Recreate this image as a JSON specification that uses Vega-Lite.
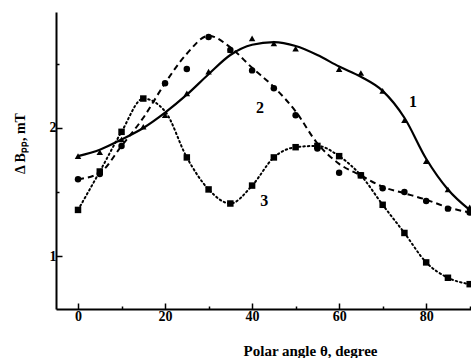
{
  "$schema": "https://vega.github.io/schema/vega-lite/v6.json",
  "width": 415,
  "height": 297,
  "autosize": "none",
  "padding": {"left": 56, "top": 12, "right": 0, "bottom": 49},
  "background": "white",
  "config": {"view": {"stroke": null}, "font": "Liberation Serif"},
  "datasets": {
    "markers": [
      {"curve": "1", "theta": 0, "v": 1.78},
      {"curve": "1", "theta": 5, "v": 1.81},
      {"curve": "1", "theta": 10, "v": 1.91},
      {"curve": "1", "theta": 15, "v": 2.01},
      {"curve": "1", "theta": 20, "v": 2.10},
      {"curve": "1", "theta": 25, "v": 2.27},
      {"curve": "1", "theta": 30, "v": 2.44},
      {"curve": "1", "theta": 35, "v": 2.61},
      {"curve": "1", "theta": 40, "v": 2.70},
      {"curve": "1", "theta": 45, "v": 2.66},
      {"curve": "1", "theta": 50, "v": 2.62},
      {"curve": "1", "theta": 60, "v": 2.46},
      {"curve": "1", "theta": 65, "v": 2.43},
      {"curve": "1", "theta": 70, "v": 2.29},
      {"curve": "1", "theta": 75, "v": 2.06},
      {"curve": "1", "theta": 80, "v": 1.74},
      {"curve": "1", "theta": 85, "v": 1.52},
      {"curve": "1", "theta": 90, "v": 1.38},
      {"curve": "2", "theta": 0, "v": 1.60},
      {"curve": "2", "theta": 5, "v": 1.64},
      {"curve": "2", "theta": 10, "v": 1.86},
      {"curve": "2", "theta": 20, "v": 2.35},
      {"curve": "2", "theta": 25, "v": 2.46},
      {"curve": "2", "theta": 30, "v": 2.71},
      {"curve": "2", "theta": 35, "v": 2.61},
      {"curve": "2", "theta": 40, "v": 2.45},
      {"curve": "2", "theta": 45, "v": 2.31},
      {"curve": "2", "theta": 50, "v": 2.10},
      {"curve": "2", "theta": 55, "v": 1.84},
      {"curve": "2", "theta": 60, "v": 1.65},
      {"curve": "2", "theta": 65, "v": 1.63},
      {"curve": "2", "theta": 70, "v": 1.53},
      {"curve": "2", "theta": 75, "v": 1.50},
      {"curve": "2", "theta": 80, "v": 1.43},
      {"curve": "2", "theta": 85, "v": 1.37},
      {"curve": "2", "theta": 90, "v": 1.34},
      {"curve": "3", "theta": 0, "v": 1.36},
      {"curve": "3", "theta": 5, "v": 1.66},
      {"curve": "3", "theta": 10, "v": 1.97},
      {"curve": "3", "theta": 15, "v": 2.23},
      {"curve": "3", "theta": 25, "v": 1.77},
      {"curve": "3", "theta": 30, "v": 1.52},
      {"curve": "3", "theta": 35, "v": 1.41},
      {"curve": "3", "theta": 40, "v": 1.55},
      {"curve": "3", "theta": 45, "v": 1.77},
      {"curve": "3", "theta": 50, "v": 1.85},
      {"curve": "3", "theta": 55, "v": 1.86},
      {"curve": "3", "theta": 60, "v": 1.78},
      {"curve": "3", "theta": 65, "v": 1.63},
      {"curve": "3", "theta": 70, "v": 1.40},
      {"curve": "3", "theta": 75, "v": 1.18},
      {"curve": "3", "theta": 80, "v": 0.95},
      {"curve": "3", "theta": 85, "v": 0.83},
      {"curve": "3", "theta": 90, "v": 0.78}
    ],
    "curves": [
      {"curve": "1", "theta": 0, "v": 1.78},
      {"curve": "1", "theta": 5, "v": 1.83},
      {"curve": "1", "theta": 10, "v": 1.91},
      {"curve": "1", "theta": 15, "v": 2.00},
      {"curve": "1", "theta": 20, "v": 2.12},
      {"curve": "1", "theta": 25, "v": 2.26},
      {"curve": "1", "theta": 30, "v": 2.42},
      {"curve": "1", "theta": 35, "v": 2.57},
      {"curve": "1", "theta": 40, "v": 2.65},
      {"curve": "1", "theta": 45, "v": 2.67},
      {"curve": "1", "theta": 50, "v": 2.64},
      {"curve": "1", "theta": 55, "v": 2.57},
      {"curve": "1", "theta": 60, "v": 2.48},
      {"curve": "1", "theta": 65, "v": 2.40},
      {"curve": "1", "theta": 70, "v": 2.29},
      {"curve": "1", "theta": 75, "v": 2.08},
      {"curve": "1", "theta": 80, "v": 1.76},
      {"curve": "1", "theta": 85, "v": 1.52},
      {"curve": "1", "theta": 90, "v": 1.36},
      {"curve": "2", "theta": 0, "v": 1.60},
      {"curve": "2", "theta": 5, "v": 1.65},
      {"curve": "2", "theta": 10, "v": 1.86},
      {"curve": "2", "theta": 15, "v": 2.08},
      {"curve": "2", "theta": 20, "v": 2.35},
      {"curve": "2", "theta": 25, "v": 2.58},
      {"curve": "2", "theta": 30, "v": 2.72},
      {"curve": "2", "theta": 35, "v": 2.63},
      {"curve": "2", "theta": 40, "v": 2.47},
      {"curve": "2", "theta": 45, "v": 2.32},
      {"curve": "2", "theta": 50, "v": 2.13},
      {"curve": "2", "theta": 55, "v": 1.88},
      {"curve": "2", "theta": 60, "v": 1.72},
      {"curve": "2", "theta": 65, "v": 1.63},
      {"curve": "2", "theta": 70, "v": 1.54},
      {"curve": "2", "theta": 75, "v": 1.49},
      {"curve": "2", "theta": 80, "v": 1.44},
      {"curve": "2", "theta": 85, "v": 1.38},
      {"curve": "2", "theta": 90, "v": 1.34},
      {"curve": "3", "theta": 0, "v": 1.36},
      {"curve": "3", "theta": 5, "v": 1.66},
      {"curve": "3", "theta": 10, "v": 1.97},
      {"curve": "3", "theta": 15, "v": 2.23},
      {"curve": "3", "theta": 20, "v": 2.13},
      {"curve": "3", "theta": 25, "v": 1.77},
      {"curve": "3", "theta": 30, "v": 1.52},
      {"curve": "3", "theta": 35, "v": 1.41},
      {"curve": "3", "theta": 40, "v": 1.55},
      {"curve": "3", "theta": 45, "v": 1.77},
      {"curve": "3", "theta": 50, "v": 1.85},
      {"curve": "3", "theta": 55, "v": 1.86},
      {"curve": "3", "theta": 60, "v": 1.78},
      {"curve": "3", "theta": 65, "v": 1.63},
      {"curve": "3", "theta": 70, "v": 1.40},
      {"curve": "3", "theta": 75, "v": 1.18},
      {"curve": "3", "theta": 80, "v": 0.95},
      {"curve": "3", "theta": 85, "v": 0.83},
      {"curve": "3", "theta": 90, "v": 0.78}
    ],
    "labels": [
      {"text": "1", "theta": 77, "v": 2.2},
      {"text": "2", "theta": 41.8, "v": 2.16},
      {"text": "3", "theta": 42.8, "v": 1.43}
    ]
  },
  "encoding": {
    "x": {"field": "theta", "type": "quantitative", "scale": {"domain": [-5.06, 90.3], "nice": false, "zero": false}},
    "y": {"field": "v", "type": "quantitative", "scale": {"domain": [0.586, 2.906], "nice": false, "zero": false}}
  },
  "layer": [
    {
      "data": {"name": "curves"},
      "transform": [{"filter": "datum.curve == '1'"}],
      "mark": {"type": "line", "interpolate": "monotone", "color": "black", "strokeWidth": 2.2},
      "encoding": {
        "x": {"field": "theta", "type": "quantitative", "axis": {
          "title": "Polar angle θ, degree",
          "values": [0, 10, 20, 30, 40, 50, 60, 70, 80, 90],
          "labelExpr": "datum.value % 20 == 0 && datum.value < 90 ? datum.label : ''",
          "tickSize": {"condition": {"test": "datum.value % 20 != 0", "value": -3}, "value": -6},
          "tickColor": "black", "tickWidth": 1.5,
          "domainColor": "black", "domainWidth": 2,
          "grid": false,
          "labelFont": "Liberation Serif", "labelFontSize": 14, "labelFontWeight": "bold", "labelColor": "black",
          "labelPadding": 6, "labelFlush": false,
          "titleFont": "Liberation Serif", "titleFontSize": 15, "titleFontWeight": "bold", "titleColor": "black",
          "titleX": 254, "titleY": 41, "titleBaseline": "middle", "titleAnchor": "middle", "titleAlign": "center"
        }},
        "y": {"field": "v", "type": "quantitative", "axis": {
          "title": "Δ Bₚₚ, mT",
          "values": [1, 1.5, 2, 2.5],
          "labelExpr": "datum.value == 1 ? '1' : datum.value == 2 ? '2' : ''",
          "tickSize": {"condition": {"test": "datum.value % 1 != 0", "value": -3}, "value": -6},
          "tickColor": "black", "tickWidth": 1.5,
          "domainColor": "black", "domainWidth": 2,
          "grid": false,
          "labelFont": "Liberation Serif", "labelFontSize": 14, "labelFontWeight": "bold", "labelColor": "black",
          "labelPadding": 6, "labelFlush": false,
          "titleFont": "Liberation Serif", "titleFontSize": 14, "titleFontWeight": "bold", "titleColor": "black",
          "titleX": -36, "titleY": 131, "titleBaseline": "middle", "titleAlign": "center", "titleAngle": -90
        }}
      }
    },
    {
      "data": {"name": "curves"},
      "transform": [{"filter": "datum.curve == '2'"}],
      "mark": {"type": "line", "interpolate": "monotone", "color": "black", "strokeWidth": 2, "strokeDash": [6, 4]},
      "encoding": {}
    },
    {
      "data": {"name": "curves"},
      "transform": [{"filter": "datum.curve == '3'"}],
      "mark": {"type": "line", "interpolate": "monotone", "color": "black", "strokeWidth": 2, "strokeDash": [1.5, 3], "strokeCap": "round"},
      "encoding": {}
    },
    {
      "data": {"name": "markers"},
      "mark": {"type": "point", "filled": true, "color": "black", "opacity": 1, "size": 42},
      "encoding": {
        "shape": {"field": "curve", "type": "nominal", "scale": {"domain": ["1", "2", "3"], "range": ["triangle-up", "circle", "square"]}, "legend": null}
      }
    },
    {
      "data": {"name": "labels"},
      "mark": {"type": "text", "font": "Liberation Serif", "fontSize": 16, "fontWeight": "bold", "color": "black", "align": "center", "baseline": "middle"},
      "encoding": {"text": {"field": "text", "type": "nominal"}}
    }
  ]
}
